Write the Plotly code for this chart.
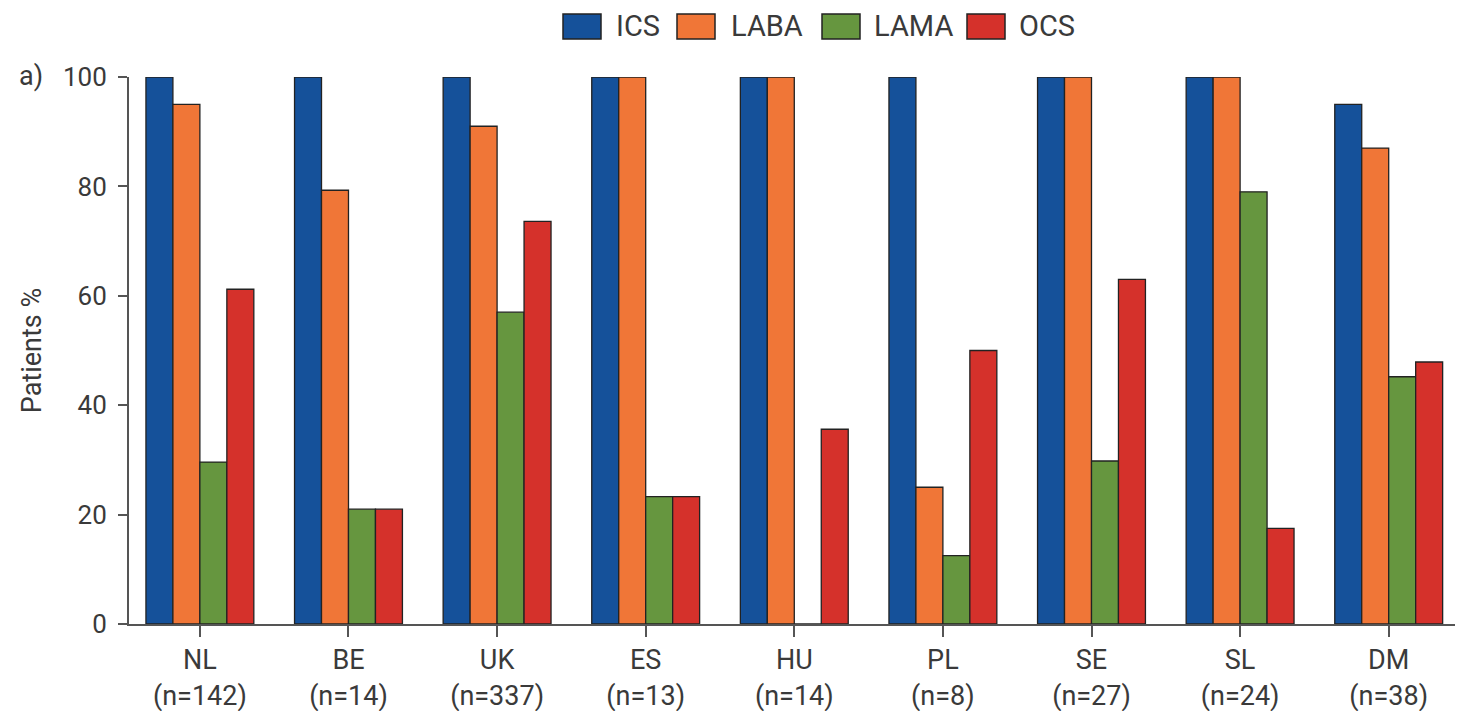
import plotly.graph_objects as go

countries = ["NL", "BE", "UK", "ES", "HU", "PL", "SE", "SL", "DM"]
n_values = [142, 14, 337, 13, 14, 8, 27, 24, 38]
series_names = ["ICS", "LABA", "LAMA", "OCS"]
ics = [100, 100, 100, 100, 100, 100, 100, 100, 95]
laba = [95, 79.3, 91, 100, 100, 25, 100, 100, 87]
lama = [29.6, 21, 57, 23.3, 0, 12.5, 29.8, 79, 45.2]
ocs = [61.2, 21, 73.6, 23.3, 35.6, 50, 63, 17.5, 47.9]
y_ticks = [0, 20, 40, 60, 80, 100]

colors = ["#15519a", "#f07637", "#66963f", "#d5312b"]
values = [ics, laba, lama, ocs]
text_color = "#3a3a3a"
axis_color = "#555555"
FONT = "Roboto"

# page body has an 8px margin; compensate so the figure lands like the reference
OFF = 8
W, H = 1463 - OFF, 711 - OFF
L, R, T, B = 129 - OFF, 0, 77 - OFF, 87
PW, PH = W - L - R, H - T - B

def px_x(px):
    return (px - OFF - L) / PW

def px_y(py):
    return (H - B - (py - OFF)) / PH

ticktext = [f"{c}<br>(n={n})" for c, n in zip(countries, n_values)]
xs = list(range(len(countries)))

fig = go.Figure()
for name, vals, col in zip(series_names, values, colors):
    fig.add_trace(go.Bar(
        x=xs, y=vals, name=name,
        marker=dict(color=col, line=dict(color="#222222", width=1.3)),
        showlegend=False,
    ))

# manual legend (large swatches)
legend_items = [(563, 614), (677, 729), (822, 872), (967, 1017)]
for (bx, tx), name, col in zip(legend_items, series_names, colors):
    fig.add_shape(type="rect", xref="paper", yref="paper",
                  x0=px_x(bx), x1=px_x(bx + 38), y0=px_y(39), y1=px_y(14),
                  fillcolor=col, line=dict(color="#222222", width=1.5))
    fig.add_annotation(xref="paper", yref="paper", x=px_x(tx), y=px_y(26),
                       xanchor="left", yanchor="middle", text=name, showarrow=False,
                       font=dict(family=FONT, size=29, color=text_color))

fig.add_annotation(xref="paper", yref="paper", x=px_x(17), y=px_y(76),
                   xanchor="left", yanchor="middle", text="a)", showarrow=False,
                   font=dict(family=FONT, size=27, color=text_color))

fig.update_layout(
    width=W, height=H,
    margin=dict(l=L, r=R, t=T, b=B, pad=0),
    plot_bgcolor="white", paper_bgcolor="white",
    barmode="group", bargap=0.274, bargroupgap=0,
    font=dict(family=FONT, color=text_color),
    xaxis=dict(
        range=[-0.477, 8.5], tickmode="array", tickvals=xs, ticktext=ticktext,
        showline=True, linecolor=axis_color, linewidth=2,
        ticks="outside", ticklen=11, tickwidth=2, tickcolor=axis_color,
        tickfont=dict(family=FONT, size=27, color=text_color),
        showgrid=False, zeroline=False,
    ),
    yaxis=dict(
        range=[0, 100], tickmode="array", tickvals=y_ticks,
        showline=True, linecolor=axis_color, linewidth=2,
        ticks="outside", ticklen=9, tickwidth=2, tickcolor=axis_color,
        tickfont=dict(family=FONT, size=26, color=text_color),
        ticklabelstandoff=6,
        showgrid=False, zeroline=False,
        title=dict(text="Patients %", font=dict(family=FONT, size=27, color=text_color), standoff=14),
    ),
)

fig.write_html("out.html")
